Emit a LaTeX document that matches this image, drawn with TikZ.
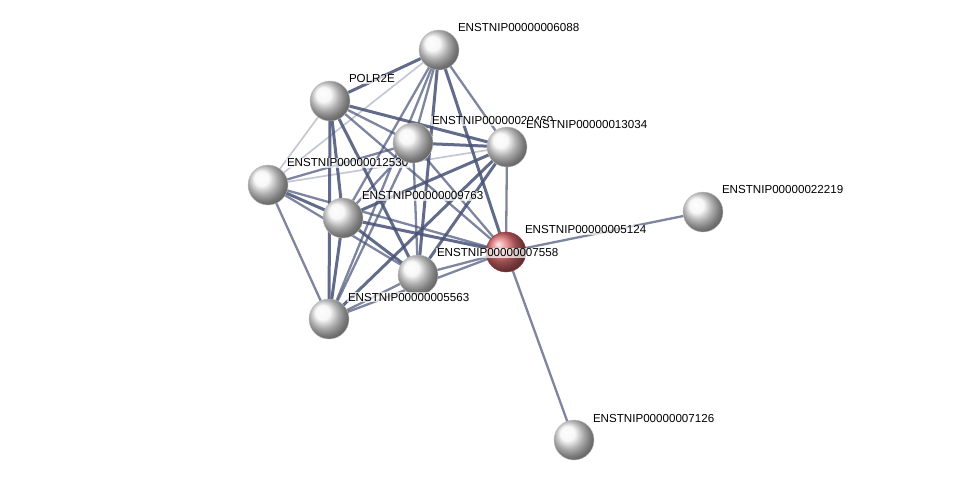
\documentclass[tikz,border=0pt]{standalone}
\usepackage{fontspec}
\setmainfont{Liberation Sans}
\usepackage{xcolor}
\usepackage{tikz}
\usetikzlibrary{shapes,positioning,calc}
\definecolor{edgeslate}{RGB}{72, 82, 118}
\definecolor{queryred}{RGB}{225, 110, 115}

\tikzset{
    protein/.style={circle, minimum size=40pt, inner sep=0pt, ball color=gray!8, draw=gray!50, line width=0.4pt},
    query/.style={protein, ball color=queryred, draw=red!50!black!80},
    plabel/.style={anchor=west, font=\fontsize{11.6}{13}\selectfont, fill=white, fill opacity=0.7, text opacity=1, inner sep=0.8pt},
    edgeheavy/.style={draw=edgeslate, line width=3pt, opacity=0.85},
    edgemid/.style={draw=edgeslate, line width=2.3pt, opacity=0.7},
    edgelight/.style={draw=edgeslate!70, line width=1.7pt, opacity=0.45}
}

\begin{document}
\begin{tikzpicture}[x=1pt, y=-1pt]
        \useasboundingbox[fill=white] (0,0) rectangle (976,485);
        % Node positions
        \coordinate (p6088) at (439, 50);
        \coordinate (polr) at (330, 101);
        \coordinate (p20460) at (413, 143);
        \coordinate (p13034) at (507, 147);
        \coordinate (p12530) at (268, 185);
        \coordinate (p9763) at (343, 218);
        \coordinate (p5124) at (506, 252);
        \coordinate (p7558) at (418, 275);
        \coordinate (p5563) at (329, 319);
        \coordinate (p22219) at (703, 212);
        \coordinate (p7126) at (574, 440);

        % Interactions (weak)
        \foreach \a/\b in {p6088/p12530, polr/p12530, p12530/p13034}
            \draw[edgelight] (\a) -- (\b);
        % Interactions (medium)
        \foreach \a/\b in {p6088/p20460, p6088/p13034, p6088/p9763, p6088/p5563,
                           polr/p20460, polr/p5124, p12530/p20460, p12530/p5563,
                           p12530/p7558, p12530/p5124, p20460/p9763, p20460/p5563,
                           p20460/p7558, p20460/p5124, p13034/p5124, p5563/p7558,
                           p5563/p5124, p7558/p5124, p5124/p22219, p5124/p7126}
            \draw[edgemid] (\a) -- (\b);
        % Interactions (strong)
        \foreach \a/\b in {p6088/polr, p6088/p7558, p6088/p5124, polr/p13034,
                           polr/p9763, polr/p5563, polr/p7558, p12530/p9763,
                           p20460/p13034, p13034/p9763, p13034/p5563, p13034/p7558,
                           p9763/p5563, p9763/p7558, p9763/p5124}
            \draw[edgeheavy] (\a) -- (\b);

        % Proteins with labels
        \node[query] (n5124) at (p5124) {};
        \node[plabel] (l5124) at ($(p5124)+(18,-22)$) {ENSTNIP00000005124};
        \node[protein] (n12530) at (p12530) {};
        \node[plabel] (l12530) at ($(p12530)+(18,-22)$) {ENSTNIP00000012530};
        \node[protein] (n20460) at (p20460) {};
        \node[plabel] (l20460) at ($(p20460)+(18,-22)$) {ENSTNIP00000020460};
        \node[protein] (n13034) at (p13034) {};
        \node[plabel, fill opacity=0.9] (l13034) at ($(p13034)+(18,-22)$) {ENSTNIP00000013034};
        \node[protein] (n7558) at (p7558) {};
        \node[plabel] (l7558) at ($(p7558)+(18,-22)$) {ENSTNIP00000007558};
        \node[protein] (n6088) at (p6088) {};
        \node[plabel] (l6088) at ($(p6088)+(18,-22)$) {ENSTNIP00000006088};
        \node[protein] (npolr) at (polr) {};
        \node[plabel] (lpolr) at ($(polr)+(18,-22)$) {POLR2E};
        \node[protein] (n9763) at (p9763) {};
        \node[plabel] (l9763) at ($(p9763)+(18,-22)$) {ENSTNIP00000009763};
        \node[protein] (n5563) at (p5563) {};
        \node[plabel] (l5563) at ($(p5563)+(18,-22)$) {ENSTNIP00000005563};
        \node[protein] (n22219) at (p22219) {};
        \node[plabel] (l22219) at ($(p22219)+(18,-22)$) {ENSTNIP00000022219};
        \node[protein] (n7126) at (p7126) {};
        \node[plabel] (l7126) at ($(p7126)+(18,-22)$) {ENSTNIP00000007126};
    \end{tikzpicture}
\end{document}
